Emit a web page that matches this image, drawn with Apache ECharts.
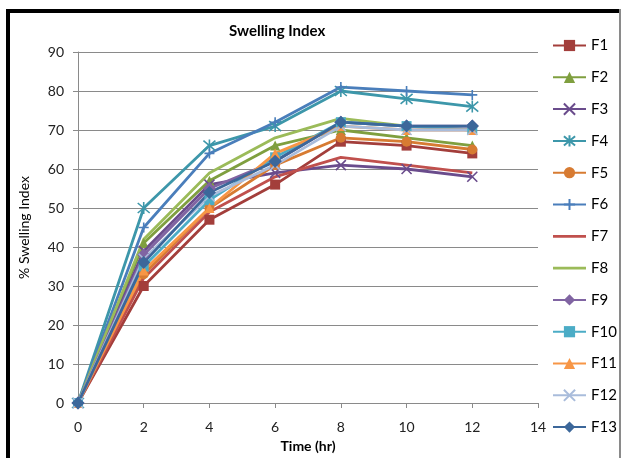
<!DOCTYPE html>
<html><head><meta charset="utf-8">
<script src="https://cdn.jsdelivr.net/npm/echarts@6/dist/echarts.min.js"></script>
<style>html,body{margin:0;padding:0;background:#fff}#c{width:626px;height:458px}</style>
</head><body><div id="c"></div>
<script>
const times = [0, 2, 4, 6, 8, 10, 12];
const names = ['F1','F2','F3','F4','F5','F6','F7','F8','F9','F10','F11','F12','F13'];
const F1  = [0, 30, 47, 56, 67, 66, 64];
const F2  = [0, 41, 57, 66, 70, 68, 66];
const F3  = [0, 39, 56, 59, 61, 60, 58];
const F4  = [0, 50, 66, 71, 80, 78, 76];
const F5  = [0, 33, 50, 61, 68, 67, 65];
const F6  = [0, 45, 64, 72, 81, 80, 79];
const F7  = [0, 32, 49, 58, 63, 61, 59];
const F8  = [0, 42, 59, 68, 73, 71, 70];
const F9  = [0, 38, 55, 62, 72, 71, 71];
const F10 = [0, 35, 52, 63, 72, 71, 70];
const F11 = [0, 34, 50, 64, 71, 70, 70];
const F12 = [0, 37, 53, 61, 71, 70, 70];
const F13 = [0, 36, 54, 62, 72, 71, 71];
const values = [F1,F2,F3,F4,F5,F6,F7,F8,F9,F10,F11,F12,F13];

const X = 'path://M0,0L10,10M10,0L0,10';
const STAR = 'path://M5,-1L5,11M0,0L10,10M10,0L0,10';
const PLUS = 'path://M5,0L5,10M0,5L10,5';
const LINE_ICON = 'path://M0,0L33,0L33,2.8L0,2.8Z';
const styles = [
  {c:'#A33E3B', s:'rect'},
  {c:'#7F9F3F', s:'triangle'},
  {c:'#6A4C8C', s:X, stroke:true},
  {c:'#3D97AA', s:STAR, stroke:true},
  {c:'#D77B32', s:'circle'},
  {c:'#4A7EBB', s:PLUS, stroke:true},
  {c:'#C0504D', s:'none'},
  {c:'#9BBB59', s:'none'},
  {c:'#8064A2', s:'diamond'},
  {c:'#4BACC6', s:'rect'},
  {c:'#F79646', s:'triangle'},
  {c:'#A9BCDB', s:X, stroke:true},
  {c:'#3C679A', s:'diamond'}
];

const font = 'Lato, "Liberation Sans", sans-serif';
const series = names.map((n, i) => {
  const st = styles[i];
  return {
    name: n, type: 'line',
    data: times.map((t, k) => [t, values[i][k]]),
    symbol: st.s,
    symbolSize: st.s === 'diamond' ? 13 : (st.s === STAR ? 12 : 10),
    showSymbol: st.s !== 'none',
    lineStyle: {color: st.c, width: 2.8},
    itemStyle: st.stroke ? {color: st.c, borderColor: st.c, borderWidth: 1.6} : {color: st.c},
    emphasis: {disabled: true},
    animation: false
  };
});

const legendData = names.map((n, i) => styles[i].s === 'none'
  ? {name: n, icon: LINE_ICON, itemStyle: {color: styles[i].c}}
  : {name: n});

const chart = echarts.init(document.getElementById('c'));
chart.setOption({
  backgroundColor: '#fff',
  animation: false,
  title: {
    text: 'Swelling Index', left: 224, top: 19,
    textStyle: {fontFamily: font, fontSize: 15, fontWeight: 'bold', color: '#000'}
  },
  grid: {left: 78, right: 88, top: 52, bottom: 54},
  legend: {
    orient: 'vertical', left: 547, top: 33,
    itemWidth: 33, itemHeight: 14, itemGap: 16.8,
    textStyle: {fontFamily: font, fontSize: 15, color: '#000'},
    data: legendData
  },
  xAxis: {
    type: 'value', min: 0, max: 14, interval: 2,
    name: 'Time (hr)', nameLocation: 'middle', nameGap: 36,
    nameTextStyle: {fontFamily: font, fontSize: 14, fontWeight: 'bold', color: '#000'},
    axisLine: {show: true, lineStyle: {color: '#8a8a8a', width: 1}},
    axisTick: {show: true, length: 5, lineStyle: {color: '#8a8a8a'}},
    axisLabel: {fontFamily: font, fontSize: 14, color: '#222', margin: 17},
    splitLine: {show: false}
  },
  yAxis: {
    type: 'value', min: 0, max: 90, interval: 10,
    name: '% Swelling Index', nameLocation: 'middle', nameGap: 47,
    nameTextStyle: {fontFamily: font, fontSize: 14, color: '#000'},
    axisLine: {show: true, lineStyle: {color: '#8a8a8a', width: 1}},
    axisTick: {show: true, length: 5, lineStyle: {color: '#8a8a8a'}},
    axisLabel: {fontFamily: font, fontSize: 14, color: '#222', margin: 14},
    splitLine: {show: true, lineStyle: {color: '#8a8a8a', width: 1}}
  },
  graphic: [
    {type: 'rect', shape: {x: 6, y: 9, width: 4, height: 449}, style: {fill: '#000'}, z: 100},
    {type: 'rect', shape: {x: 6, y: 9, width: 615, height: 4}, style: {fill: '#000'}, z: 100},
    {type: 'rect', shape: {x: 619, y: 9, width: 2, height: 449}, style: {fill: '#8a8a8a'}, z: 100}
  ],
  series: series
});
</script></body></html>
